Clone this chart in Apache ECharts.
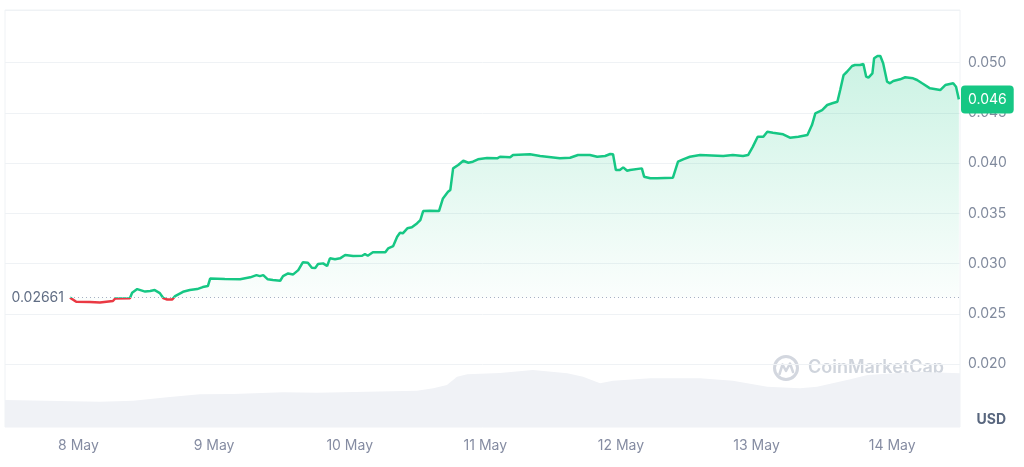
<!DOCTYPE html>
<html>
<head>
<meta charset="utf-8">
<script src="https://cdn.jsdelivr.net/npm/echarts@6/dist/echarts.min.js"></script>
<style>
  html, body { margin: 0; padding: 0; background: #ffffff; }
  #chart { width: 1024px; height: 467px; }
</style>
</head>
<body>
<div id="chart"></div>
<script>
// ---- data (x = hours since 7 May 00:00) ----
const dayHours = [24, 48, 72, 96, 120, 144, 168];
const dayLabels = ['8 May', '9 May', '10 May', '11 May', '12 May', '13 May', '14 May'];
const priceTicks = [0.020, 0.025, 0.030, 0.035, 0.040, 0.045, 0.050];
const basePrice = 0.02661;

const priceHours = [22.5,23.6,26.0,27.8,30.1,30.5,33.1,33.5,34.4,35.8,
  36.7,37.5,38.4,39.0,39.7,40.6,41.1,42.5,43.7,45.0,
  46.0,46.9,47.3,49.9,52.6,54.4,55.5,56.1,56.7,57.5,
  58.4,59.7,60.2,61.1,62.0,62.9,63.7,64.6,65.3,65.9,
  66.4,67.3,68.0,68.5,69.4,70.3,71.2,72.6,74.2,74.7,
  75.2,76.1,78.3,78.8,79.7,80.4,80.9,81.4,82.2,83.0,
  83.9,84.5,85.0,86.2,87.8,88.5,89.4,89.8,90.3,91.2,
  92.1,93.0,93.8,94.7,96.3,98.1,98.6,100.4,100.9,103.9,
  105.7,109.2,111.0,112.4,114.5,115.8,117.2,118.1,118.6,119.1,
  119.8,120.4,121.1,121.6,123.7,124.1,125.2,126.4,129.2,130.1,
  131.0,132.2,134.0,138.1,139.8,141.6,142.5,143.3,144.2,145.2,
  145.9,146.9,148.7,149.9,151.4,153.0,153.8,154.4,155.6,156.5,
  157.4,158.3,158.8,159.4,160.0,160.9,161.4,162.3,162.9,163.4,
  163.8,164.5,164.8,165.4,165.9,166.4,167.1,167.6,168.2,169.4,
  170.3,171.7,172.4,173.3,174.7,176.5,177.4,178.8,179.3,179.8];

const prices = [0.02661,0.02620,0.02617,0.02612,0.02627,0.02652,0.02654,0.02709,0.02746,0.02721,
  0.02726,0.02736,0.02706,0.02657,0.02641,0.02643,0.02676,0.02719,0.02736,0.02746,
  0.02766,0.02776,0.02851,0.02846,0.02843,0.02863,0.02885,0.02875,0.02885,0.02843,
  0.02836,0.02829,0.02875,0.02902,0.02892,0.02935,0.03012,0.03008,0.02958,0.02955,
  0.02995,0.03002,0.02975,0.03052,0.03042,0.03052,0.03085,0.03075,0.03078,0.03095,
  0.03078,0.03112,0.03112,0.03151,0.03174,0.03267,0.03307,0.03301,0.03351,0.03361,
  0.03400,0.03433,0.03523,0.03526,0.03523,0.03649,0.03715,0.03732,0.03948,0.03981,
  0.04024,0.04004,0.04014,0.04038,0.04051,0.04048,0.04064,0.04058,0.04081,0.04088,
  0.04071,0.04048,0.04054,0.04081,0.04081,0.04064,0.04071,0.04091,0.04088,0.03931,
  0.03931,0.03958,0.03924,0.03931,0.03948,0.03865,0.03849,0.03849,0.03855,0.04014,
  0.04038,0.04064,0.04081,0.04071,0.04081,0.04071,0.04081,0.04160,0.04263,0.04263,
  0.04313,0.04303,0.04287,0.04253,0.04263,0.04280,0.04379,0.04496,0.04529,0.04579,
  0.04596,0.04612,0.04728,0.04877,0.04910,0.04967,0.04977,0.04977,0.04987,0.04861,
  0.04851,0.04894,0.05044,0.05067,0.05067,0.04994,0.04811,0.04795,0.04818,0.04835,
  0.04855,0.04845,0.04828,0.04795,0.04745,0.04728,0.04778,0.04795,0.04761,0.04635];

const volHours = [11,27.8,33.7,39.7,45.5,51.4,60.2,66.2,75.1,83.9,86.8,89.2,91.0,92.8,98.6,
  104.4,110.5,113.3,116.3,118.6,125.2,134.0,139.8,145.9,151.7,154.7,160.6,163.6,172.4,180];
const volumes = [4.01,3.76,3.91,4.42,4.86,4.91,5.16,5.10,5.25,5.40,5.75,6.24,7.48,7.84,8.03,
  8.47,7.98,7.48,6.50,6.88,7.24,7.24,6.88,5.99,5.75,5.99,7.09,7.73,8.22,7.98];

// ---- chart ----
const GREEN = '#16c784', RED = '#ea3943', GRID = '#eff2f5';
const chart = echarts.init(document.getElementById('chart'), null, { renderer: 'canvas' });
const lastH = priceHours[priceHours.length - 1];
const lastP = prices[prices.length - 1];
const gridColors = [GRID, GRID, GRID, GRID, GRID, GRID, GRID, GRID, 'rgba(0,0,0,0)', GRID];

chart.setOption({
  animation: false,
  backgroundColor: '#ffffff',
  textStyle: { fontFamily: 'Inter, "Noto Sans", sans-serif' },
  grid: [
    { left: 5, right: 64, top: 10, bottom: 52.8 },
    { left: 5, right: 64, top: 10, bottom: 40, show: true, borderColor: GRID, borderWidth: 1, backgroundColor: 'transparent' }
  ],
  xAxis: [
    { type: 'value', gridIndex: 0, min: 11, max: 180,
      axisLine: { show: false }, axisTick: { show: false }, splitLine: { show: false },
      axisLabel: { show: false } },
    { type: 'value', gridIndex: 1, min: 11, max: 180,
      axisLine: { show: false }, axisTick: { show: false }, splitLine: { show: false },
      axisLabel: { customValues: dayHours, margin: 12, color: '#858ca2', fontSize: 14,
        formatter: v => dayLabels[dayHours.indexOf(v)] } }
  ],
  yAxis: [
    { type: 'value', gridIndex: 0, position: 'right', min: 0.015, max: 0.05525, interval: 0.005,
      axisLine: { show: false }, axisTick: { show: false },
      splitLine: { show: true, lineStyle: { color: gridColors, width: 1 } },
      axisLabel: { margin: 8, color: '#808a9d', fontSize: 14,
        formatter: v => priceTicks.some(t => Math.abs(t - v) < 1e-6) ? v.toFixed(3) : '' } },
    { type: 'value', gridIndex: 1, min: 0, max: 62, show: false,
      splitLine: { show: false } }
  ],
  visualMap: {
    show: false, type: 'piecewise', seriesIndex: 1, dimension: 1,
    pieces: [ { gte: 0, lt: basePrice, color: RED }, { gte: basePrice, lte: 1, color: GREEN } ]
  },
  graphic: [
    { type: 'text', right: 18, top: 413, z: 10,
      style: { text: 'USD', font: 'bold 14px Inter, sans-serif', fill: '#58667e' } },
    { type: 'group', left: 772, top: 354, z: 5, children: [
      { type: 'circle', shape: { cx: 13, cy: 13, r: 11.5 }, style: { fill: 'none', stroke: '#d3d7df', lineWidth: 3 } },
      { type: 'polyline', shape: { points: [[6.5, 19], [9.5, 9.5], [13, 16], [17, 8.5], [20, 17]] },
        style: { fill: 'none', stroke: '#d3d7df', lineWidth: 2.5, lineJoin: 'round', lineCap: 'round' } },
      { type: 'text', x: 35, y: 13, style: { text: 'CoinMarketCap', font: '600 18px Inter, sans-serif',
        fill: '#cfd4dc', textVerticalAlign: 'middle' } }
    ] }
  ],
  series: [
    { type: 'line', name: 'Volume', xAxisIndex: 1, yAxisIndex: 1, z: 1,
      data: volHours.map((h, i) => [h, volumes[i]]),
      showSymbol: false, symbol: 'none', lineStyle: { width: 0 },
      areaStyle: { color: '#f0f2f6', opacity: 1 } },
    { type: 'line', name: 'Price', xAxisIndex: 0, yAxisIndex: 0, z: 3,
      data: priceHours.map((h, i) => [h, prices[i]]),
      showSymbol: false, symbol: 'none',
      lineStyle: { width: 2.5 },
      areaStyle: {
        origin: basePrice,
        color: new echarts.graphic.LinearGradient(0, 0, 0, 1, [
          { offset: 0, color: 'rgba(22,199,132,0.32)' },
          { offset: 1, color: 'rgba(22,199,132,0.02)' }
        ])
      },
      markLine: {
        silent: true, symbol: ['none', 'none'], animation: false,
        data: [
          [ { coord: [priceHours[0], basePrice],
              lineStyle: { type: [1, 3], color: '#a6b0c3', width: 1 },
              label: { show: true, position: 'start', distance: 6, formatter: basePrice.toFixed(5),
                       color: '#616e85', fontSize: 14 } },
            { coord: [180, basePrice] } ],
          [ { coord: [lastH, lastP], lineStyle: { color: 'rgba(0,0,0,0)', width: 0 },
              label: { show: true, position: 'end', distance: 1, formatter: lastP.toFixed(3),
                       color: '#ffffff', fontSize: 14, backgroundColor: GREEN,
                       padding: [7, 7, 7, 7], borderRadius: 4 } },
            { coord: [180, lastP] } ]
        ]
      }
    }
  ]
});
</script>
</body>
</html>
